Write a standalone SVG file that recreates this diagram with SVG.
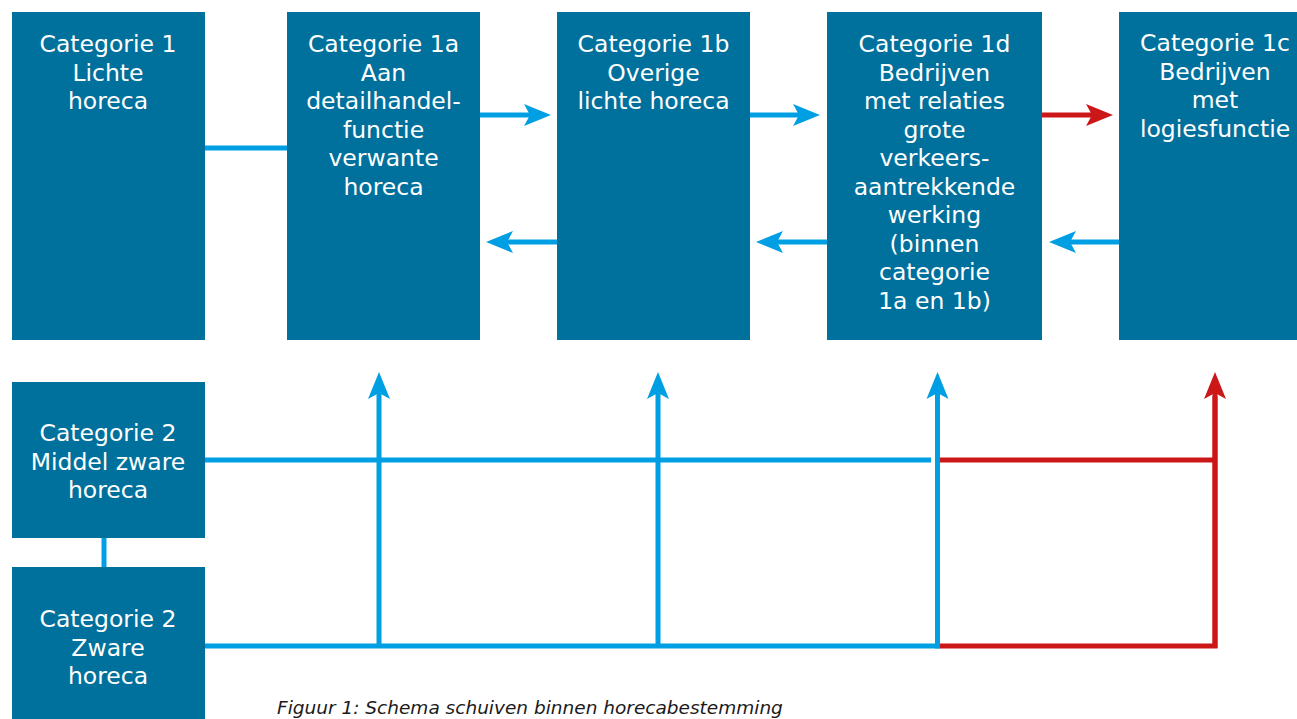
<svg xmlns="http://www.w3.org/2000/svg" width="1297" height="719" viewBox="0 0 1297 719">
<style>
.box{fill:#00719C}
.t{font-family:"DejaVu Sans",Verdana,sans-serif;font-size:23.5px;fill:#ffffff;text-anchor:middle}
.b{stroke:#009FE3;stroke-width:5;fill:none}
.r{stroke:#CC1719;stroke-width:5;fill:none}
.cap{font-family:"DejaVu Sans",Verdana,sans-serif;font-style:italic;font-size:18.5px;fill:#1a1a1a}
</style>
<defs>
<marker id="ab" markerUnits="userSpaceOnUse" viewBox="-28 -12 29 24" markerWidth="29" markerHeight="24" refX="-12" refY="0" orient="auto">
<path d="M0,0 L-27,-11 L-21,0 L-27,11 Z" fill="#009FE3"/>
</marker>
<marker id="ar" markerUnits="userSpaceOnUse" viewBox="-28 -12 29 24" markerWidth="29" markerHeight="24" refX="-12" refY="0" orient="auto">
<path d="M0,0 L-27,-11 L-21,0 L-27,11 Z" fill="#CC1719"/>
</marker>
</defs>
<rect width="1297" height="719" fill="#ffffff"/>
<g id="connectors">
<line class="b" x1="205" y1="148" x2="287" y2="148"/>
<line class="b" x1="104" y1="538" x2="104" y2="567"/>
<line class="b" x1="480" y1="115" x2="539" y2="115" marker-end="url(#ab)"/>
<line class="b" x1="750" y1="115" x2="808" y2="115" marker-end="url(#ab)"/>
<line class="r" x1="1042" y1="115" x2="1101" y2="115" marker-end="url(#ar)"/>
<line class="b" x1="557" y1="242" x2="498" y2="242" marker-end="url(#ab)"/>
<line class="b" x1="827" y1="242" x2="768" y2="242" marker-end="url(#ab)"/>
<line class="b" x1="1119" y1="242" x2="1061" y2="242" marker-end="url(#ab)"/>
<line class="b" x1="205" y1="460" x2="931" y2="460"/>
<line class="r" x1="940" y1="460" x2="1215" y2="460"/>
<line class="b" x1="205" y1="646" x2="940" y2="646"/>
<path class="r" d="M940,646 H1215 V396"/>
<line class="r" x1="1215" y1="648" x2="1215" y2="384" marker-end="url(#ar)"/>
<line class="b" x1="379" y1="646" x2="379" y2="384" marker-end="url(#ab)"/>
<line class="b" x1="658" y1="646" x2="658" y2="384" marker-end="url(#ab)"/>
<line class="b" x1="937.5" y1="648.5" x2="937.5" y2="384" marker-end="url(#ab)" stroke-width="6"/>
</g>
<g id="cat1">
<rect class="box" x="12" y="12" width="193" height="328"/>
<text class="t"><tspan x="108" y="52">Categorie 1</tspan><tspan x="108" y="80.5">Lichte</tspan><tspan x="108" y="109">horeca</tspan></text>
</g>
<g id="cat1a">
<rect class="box" x="287" y="12" width="193" height="328"/>
<text class="t"><tspan x="383.5" y="52">Categorie 1a</tspan><tspan x="383.5" y="80.5">Aan</tspan><tspan x="383.5" y="109">detailhandel-</tspan><tspan x="383.5" y="137.5">functie</tspan><tspan x="383.5" y="166">verwante</tspan><tspan x="383.5" y="194.5">horeca</tspan></text>
</g>
<g id="cat1b">
<rect class="box" x="557" y="12" width="193" height="328"/>
<text class="t"><tspan x="653.5" y="52">Categorie 1b</tspan><tspan x="653.5" y="80.5">Overige</tspan><tspan x="653.5" y="109">lichte horeca</tspan></text>
</g>
<g id="cat1d">
<rect class="box" x="827" y="12" width="215" height="328"/>
<text class="t"><tspan x="934.5" y="52">Categorie 1d</tspan><tspan x="934.5" y="80.5">Bedrijven</tspan><tspan x="934.5" y="109">met relaties</tspan><tspan x="934.5" y="137.5">grote</tspan><tspan x="934.5" y="166">verkeers-</tspan><tspan x="934.5" y="194.5">aantrekkende</tspan><tspan x="934.5" y="223">werking</tspan><tspan x="934.5" y="251.5">(binnen</tspan><tspan x="934.5" y="280">categorie</tspan><tspan x="934.5" y="308.5">1a en 1b)</tspan></text>
</g>
<g id="cat1c">
<rect class="box" x="1119" y="12" width="178" height="328"/>
<text class="t"><tspan x="1215" y="51">Categorie 1c</tspan><tspan x="1215" y="79.5">Bedrijven</tspan><tspan x="1215" y="108">met</tspan><tspan x="1215" y="136.5">logiesfunctie</tspan></text>
</g>
<g id="cat2middel">
<rect class="box" x="12" y="382" width="193" height="156"/>
<text class="t"><tspan x="108" y="441">Categorie 2</tspan><tspan x="108" y="469.5">Middel zware</tspan><tspan x="108" y="498">horeca</tspan></text>
</g>
<g id="cat2zwaar">
<rect class="box" x="12" y="567" width="193" height="152"/>
<text class="t"><tspan x="108" y="627">Categorie 2</tspan><tspan x="108" y="655.5">Zware</tspan><tspan x="108" y="684">horeca</tspan></text>
</g>
<text id="caption" class="cap" x="277" y="714">Figuur 1: Schema schuiven binnen horecabestemming</text>
</svg>
